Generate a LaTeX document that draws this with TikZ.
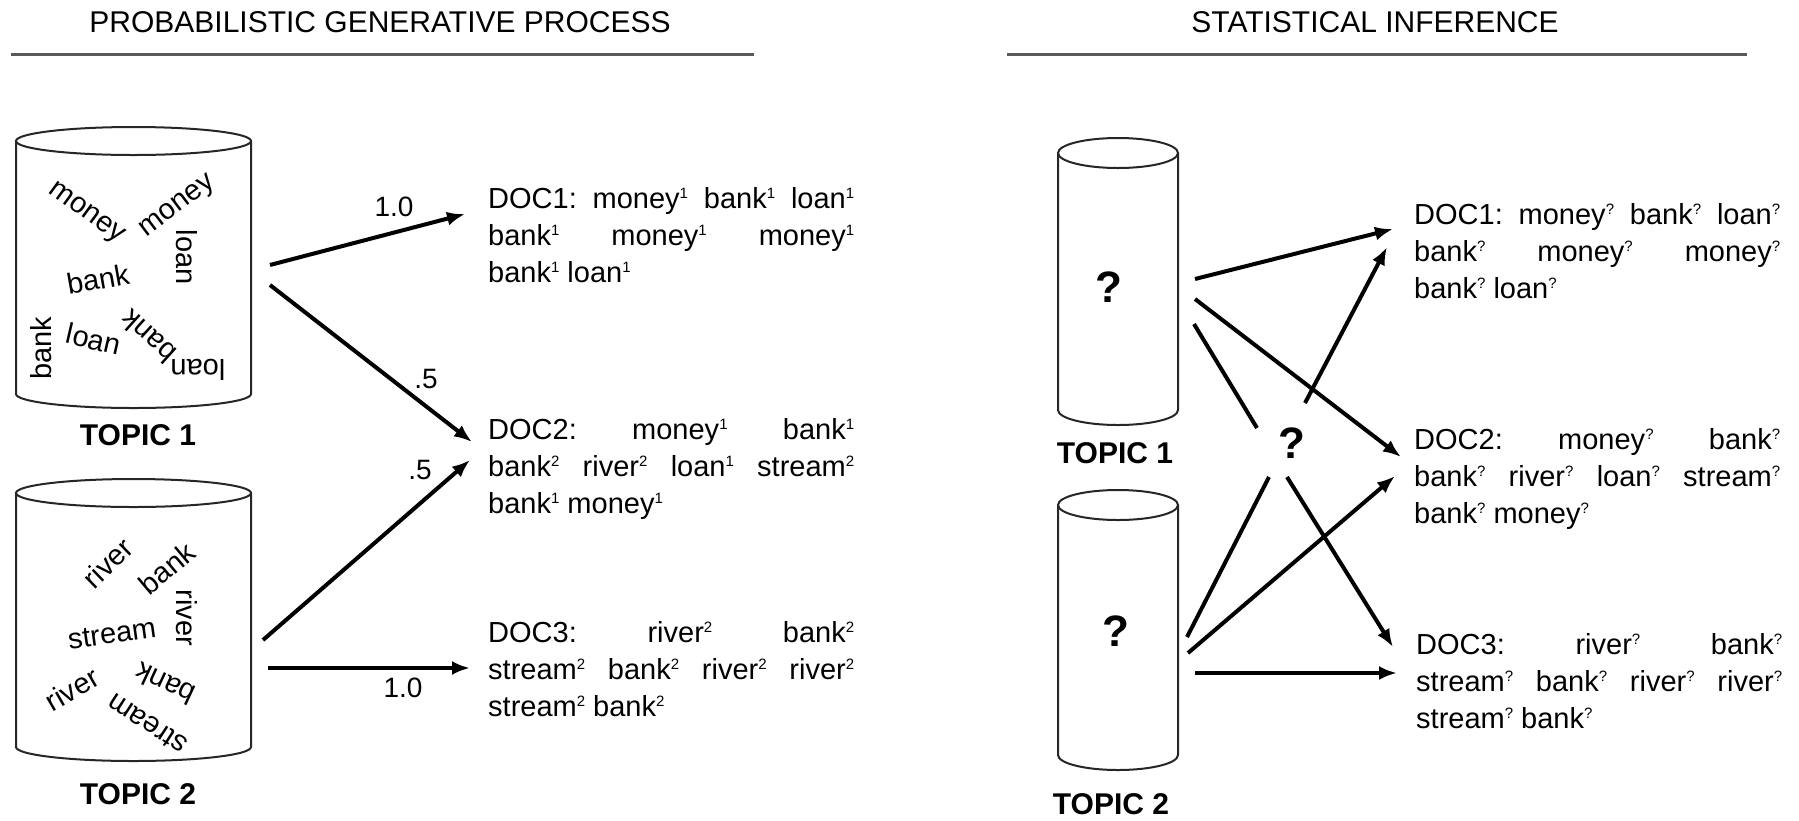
\documentclass[tikz,border=0pt]{standalone}
\usepackage{fontspec}
\setmainfont{Liberation Sans}
\usetikzlibrary{arrows.meta}
\newcommand\su[1]{\raisebox{9.5pt}{\fontsize{15}{15}\selectfont #1}}
\newcommand\jl[1]{\hbox to 366pt{#1}}
\newcommand\doclines[3]{\vtop{\hsize=366pt\baselineskip=37pt\lineskiplimit=-20pt\jl{#1}\jl{#2}\hbox{#3}}}
\newcommand\cylinder[5]{%
  \draw[cyl] (#1,#3) ellipse [x radius=#2, y radius=#5];
  \draw[cyl] (#1-#2,#3) -- (#1-#2,#4) arc[start angle=180, end angle=0, x radius=#2, y radius=#5] -- (#1+#2,#3);
}
\begin{document}
\begin{tikzpicture}[x=1pt,y=-1pt,
  cyl/.style={line width=2pt, draw=black!85},
  hdr/.style={font=\fontsize{30}{36}\selectfont, inner sep=0, anchor=base},
  topic/.style={font=\fontsize{30}{36}\selectfont\bfseries, inner sep=0, anchor=base},
  word/.style={font=\fontsize{29}{34}\selectfont, inner sep=0},
  doc/.style={font=\fontsize{29}{37}\selectfont, inner sep=0, anchor=base west},
  qm/.style={font=\fontsize{44}{50}\selectfont\bfseries, inner sep=0},
  prob/.style={font=\fontsize{28}{32}\selectfont, inner sep=0},
  arr/.style={line width=4pt, -{Latex[length=18pt,width=14pt]}},
  ln/.style={line width=4pt},
  rulestyle/.style={line width=3pt, draw=black!65}]
\useasboundingbox (0,0) rectangle (1799,820);

% headers
\node[hdr] (h1) at (380,32) {PROBABILISTIC GENERATIVE PROCESS};
\node[hdr] (h2) at (1375,32) {STATISTICAL INFERENCE};
\coordinate (r1a) at (11,54); \coordinate (r1b) at (754,54);
\coordinate (r2a) at (1007,54); \coordinate (r2b) at (1747,54);
\draw[rulestyle] (r1a) -- (r1b);
\draw[rulestyle] (r2a) -- (r2b);

% ---------- left: topic 1 ----------
\cylinder{133.5}{117.5}{141}{394}{14}
\node[word, rotate=-36] (w1) at (86,214) {money};
\node[word, rotate=37] (w2) at (178,207) {money};
\node[word, rotate=-90] (w3) at (187,257) {loan};
\node[word, rotate=10] (w4) at (98,279) {bank};
\node[word, rotate=90] (w5) at (41,348) {bank};
\node[word, rotate=-13] (w6) at (94,339) {loan};
\node[word, rotate=138] (w7) at (148,337) {bank};
\node[word, rotate=180] (w8) at (198,370) {loan};
\node[topic] (t1) at (138,445) {TOPIC 1};

% ---------- left: topic 2 ----------
\cylinder{133.5}{117.5}{493}{747}{14}
\node[word, rotate=44] (v1) at (108,563) {river};
\node[word, rotate=40] (v2) at (167,568) {bank};
\node[word, rotate=-90] (v3) at (187,618) {river};
\node[word, rotate=8] (v4) at (112,634) {stream};
\node[word, rotate=30] (v5) at (72,689) {river};
\node[word, rotate=155] (v6) at (165,684) {bank};
\node[word, rotate=147] (v7) at (147,724) {stream};
\node[topic] (t2) at (138,804) {TOPIC 2};

% ---------- left docs ----------
\node[doc] (d1) at (488,208) {\doclines
  {DOC1:\hfill money\su{1}\hfill bank\su{1}\hfill loan\su{1}}
  {bank\su{1}\hfill money\su{1}\hfill money\su{1}}
  {bank\su{1} loan\su{1}}};
\node[doc] (d2) at (488,439) {\doclines
  {DOC2:\hfill money\su{1}\hfill bank\su{1}}
  {bank\su{2}\hfill river\su{2}\hfill loan\su{1}\hfill stream\su{2}}
  {bank\su{1} money\su{1}}};
\node[doc] (d3) at (488,642) {\doclines
  {DOC3:\hfill river\su{2}\hfill bank\su{2}}
  {stream\su{2}\hfill bank\su{2}\hfill river\su{2}\hfill river\su{2}}
  {stream\su{2} bank\su{2}}};

% left arrows
\coordinate (a1s) at (270,265); \coordinate (a1e) at (465,214);
\coordinate (a2s) at (270,285); \coordinate (a2e) at (472,442);
\coordinate (a3s) at (263,640); \coordinate (a3e) at (470,460);
\coordinate (a4s) at (268,668); \coordinate (a4e) at (470,668);
\draw[arr] (a1s) -- (a1e);
\draw[arr] (a2s) -- (a2e);
\draw[arr] (a3s) -- (a3e);
\draw[arr] (a4s) -- (a4e);
\node[prob] (p1) at (394,207) {1.0};
\node[prob] (p2) at (426,379) {.5};
\node[prob] (p3) at (420,470) {.5};
\node[prob] (p4) at (403,688) {1.0};

% ---------- right ----------
\cylinder{1118}{60}{153}{410}{15}
\node[qm] (q1) at (1109,287) {?};
\node[topic] (t1r) at (1115,463) {TOPIC 1};
\cylinder{1118}{60}{505}{755}{15}
\node[qm] (q2) at (1116,631) {?};
\node[topic] (t2r) at (1111,814) {TOPIC 2};
\node[qm] (q) at (1292,443) {?};

\node[doc] (e1) at (1414,224) {\doclines
  {DOC1:\hfill money\su{?}\hfill bank\su{?}\hfill loan\su{?}}
  {bank\su{?}\hfill money\su{?}\hfill money\su{?}}
  {bank\su{?} loan\su{?}}};
\node[doc] (e2) at (1414,449) {\doclines
  {DOC2:\hfill money\su{?}\hfill bank\su{?}}
  {bank\su{?}\hfill river\su{?}\hfill loan\su{?}\hfill stream\su{?}}
  {bank\su{?} money\su{?}}};
\node[doc] (e3) at (1416,654) {\doclines
  {DOC3:\hfill river\su{?}\hfill bank\su{?}}
  {stream\su{?}\hfill bank\su{?}\hfill river\su{?}\hfill river\su{?}}
  {stream\su{?} bank\su{?}}};

\coordinate (ba) at (1195,279); \coordinate (ea) at (1393,229);
\coordinate (bb) at (1195,299); \coordinate (eb) at (1401,457);
\coordinate (bc) at (1194,324); \coordinate (ec) at (1257,428);
\coordinate (bd) at (1305,403); \coordinate (ed) at (1387,247);
\coordinate (be) at (1287,477); \coordinate (ee) at (1393,647);
\coordinate (bf) at (1187,637); \coordinate (ef) at (1269,477);
\coordinate (bg) at (1188,653); \coordinate (eg) at (1395,476);
\coordinate (bh) at (1195,673); \coordinate (eh) at (1397,673);
\draw[arr] (ba) -- (ea);
\draw[arr] (bb) -- (eb);
\draw[ln] (bc) -- (ec);
\draw[arr] (bd) -- (ed);
\draw[arr] (be) -- (ee);
\draw[ln] (bf) -- (ef);
\draw[arr] (bg) -- (eg);
\draw[arr] (bh) -- (eh);
\end{tikzpicture}
\end{document}
